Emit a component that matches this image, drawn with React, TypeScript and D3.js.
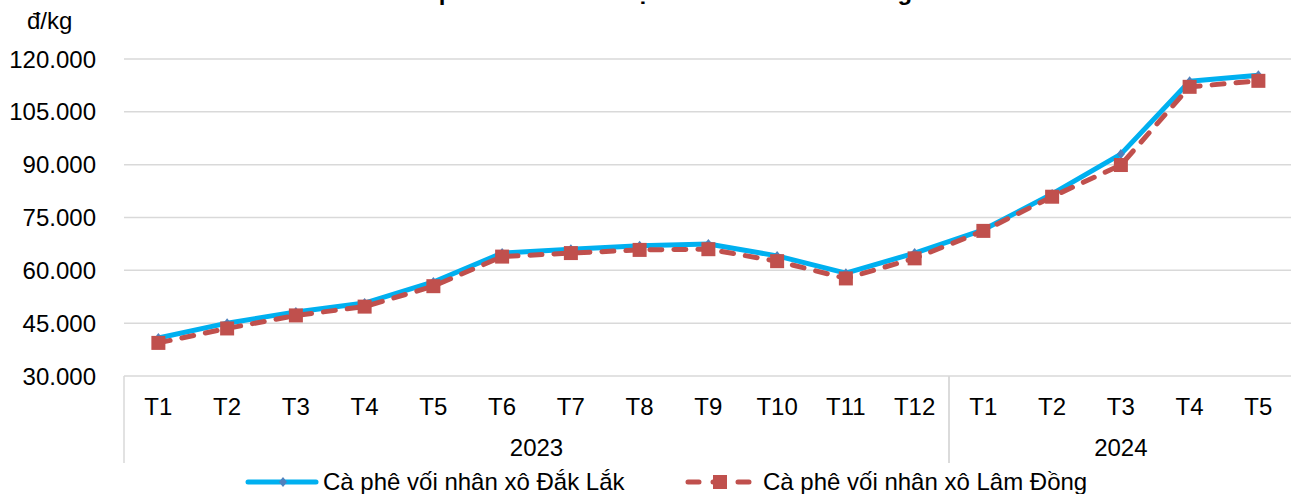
import React from "react";
import * as d3 from "d3";

const months = ["T1","T2","T3","T4","T5","T6","T7","T8","T9","T10","T11","T12","T1","T2","T3","T4","T5"];
const years = [
  { label: "2023", start: 0, count: 12 },
  { label: "2024", start: 12, count: 5 },
];
const dakLak = [40800, 45000, 48200, 50700, 56700, 64900, 66000, 67000, 67500, 64100, 59200, 64900, 71500, 81700, 93000, 113700, 115400];
const lamDong = [39400, 43500, 47200, 49700, 55500, 63900, 64900, 65800, 66000, 62600, 57700, 63400, 71200, 80900, 89900, 112100, 113800];
const yTicks = [30000, 45000, 60000, 75000, 90000, 105000, 120000];
const seriesNames = ["Cà phê vối nhân xô Đắk Lắk", "Cà phê vối nhân xô Lâm Đồng"];
const unitLabel = "đ/kg";
const titleText = "Giá cà phê vối nhân xô tại Đắk Lắk và Lâm Đồng";

const W = 1291;
const H = 494;
const FONT = "'Liberation Sans', Arial, sans-serif";
const BLUE = "#00B0F0";
const BLUE_MARK = "#4F81BD";
const RED = "#C0504D";
const GRID = "#D9D9D9";

const locale = d3.formatLocale({ decimal: ",", thousands: ".", grouping: [3], currency: ["", ""] });
const fmt = locale.format(",");

export default function App() {
  const left = 124;
  const band = 68.75;
  const x = d3.scaleBand<number>().domain(months.map((_, i) => i)).range([left, left + band * months.length]).padding(0);
  const y = d3.scaleLinear().domain([30000, 120000]).range([376, 59]);
  const cx = (i: number) => (x(i) as number) + x.bandwidth() / 2;
  const line = d3.line<number>().x((_, i) => cx(i)).y((d) => y(d));
  const axisY = y(30000);
  const diamond = "M0,-5L4,0L0,5L-4,0Z";
  const sq = 14;

  return (
    <div>
      <style>{`body{margin:0}`}</style>
      <svg width={W} height={H} style={{ display: "block", fontFamily: FONT }}>
        <rect width={W} height={H} fill="#fff" />
        <text x={636} y={0} textAnchor="middle" fontSize={24} fontWeight="bold" fill="#000">{titleText}</text>
        <text x={27} y={29} fontSize={24} fill="#000">{unitLabel}</text>
        {yTicks.map((t) => (
          <g key={t}>
            {t !== 30000 && <line x1={left} x2={W + 10} y1={y(t)} y2={y(t)} stroke={GRID} strokeWidth={1.5} />}
            <text x={96} y={y(t) + 8.5} textAnchor="end" fontSize={24} fill="#000">{fmt(t)}</text>
          </g>
        ))}
        <line x1={left} x2={W + 10} y1={axisY} y2={axisY} stroke={GRID} strokeWidth={1.5} />
        {years.map((yr) => {
          const x0 = x(yr.start) as number;
          const x1 = x0 + band * yr.count;
          return (
            <g key={yr.label}>
              <line x1={x0} x2={x0} y1={axisY} y2={463} stroke={GRID} strokeWidth={1.5} />
              <line x1={x1} x2={x1} y1={axisY} y2={463} stroke={GRID} strokeWidth={1.5} />
              <text x={(x0 + x1) / 2} y={456} textAnchor="middle" fontSize={24} fill="#000">{yr.label}</text>
            </g>
          );
        })}
        {months.map((m, i) => (
          <text key={i} x={cx(i)} y={415} textAnchor="middle" fontSize={24} fill="#000">{m}</text>
        ))}
        <path d={line(dakLak) || ""} fill="none" stroke={BLUE} strokeWidth={5} strokeLinejoin="round" />
        {dakLak.map((v, i) => (
          <path key={i} d={diamond} transform={`translate(${cx(i)},${y(v)})`} fill={BLUE_MARK} />
        ))}
        <path d={line(lamDong) || ""} fill="none" stroke={RED} strokeWidth={5} strokeDasharray="12 12" strokeLinecap="round" strokeLinejoin="round" />
        {lamDong.map((v, i) => (
          <rect key={i} x={cx(i) - sq / 2} y={y(v) - sq / 2} width={sq} height={sq} fill={RED} />
        ))}
        <g>
          <line x1={248} x2={316} y1={482} y2={482} stroke={BLUE} strokeWidth={5} strokeLinecap="round" />
          <path d={diamond} transform="translate(283,482)" fill={BLUE_MARK} />
          <text x={323} y={490} fontSize={24} fill="#000">{seriesNames[0]}</text>
          <line x1={688} x2={749} y1={482} y2={482} stroke={RED} strokeWidth={5} strokeDasharray="11 14" strokeLinecap="round" />
          <rect x={720 - sq / 2} y={482 - sq / 2} width={sq} height={sq} fill={RED} />
          <text x={763} y={490} fontSize={24} fill="#000">{seriesNames[1]}</text>
        </g>
      </svg>
    </div>
  );
}
